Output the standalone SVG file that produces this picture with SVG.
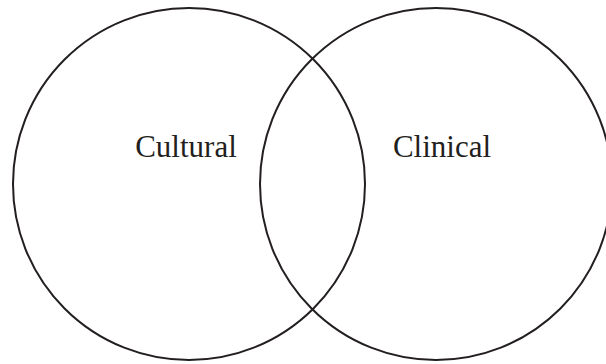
<svg xmlns="http://www.w3.org/2000/svg" width="606" height="364" viewBox="0 0 606 364">
<style>
.c{fill:none;stroke:#231f20;stroke-width:2}
.t{font-family:"Liberation Serif","Times New Roman",serif;font-size:31px;fill:#231f20;text-anchor:middle}
</style>
<rect width="606" height="364" fill="#fff"/>
<g id="cultural"><circle class="c" cx="189" cy="184" r="176"/><text class="t" x="186" y="157">Cultural</text></g>
<g id="clinical"><circle class="c" cx="436" cy="184" r="176"/><text class="t" x="442" y="157">Clinical</text></g>
<g id="connectors"/>
</svg>
